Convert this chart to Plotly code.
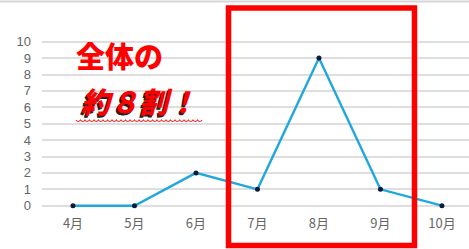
import plotly.graph_objects as go

months = ["4月", "5月", "6月", "7月", "8月", "9月", "10月"]
counts = [0, 0, 2, 1, 9, 1, 0]
y_ticks = list(range(0, 11))

W, H = 469, 249
L, R, T, B = 42, 0, 34, 35
PW, PH = W - L - R, H - T - B

def px(x):
    return (x - L) / PW

def py(y):
    return (H - B - y) / PH

fig = go.Figure()
fig.add_trace(go.Scatter(
    x=list(range(len(months))), y=counts, mode="lines+markers",
    line=dict(color="#1fa8dc", width=2.4),
    marker=dict(color="#0d1a3a", size=5),
    hoverinfo="skip", showlegend=False,
))

font_jp = "Noto Sans CJK JP, Noto Sans, sans-serif"

fig.update_layout(
    width=W, height=H, margin=dict(l=L, r=R, t=T, b=B),
    paper_bgcolor="white", plot_bgcolor="white",
    xaxis=dict(range=[-0.504, 6.44], tickmode="array",
               tickvals=list(range(len(months))), ticktext=months,
               showgrid=False, zeroline=False, showline=False,
               tickfont=dict(family=font_jp, size=13, color="#666666")),
    yaxis=dict(range=[-0.506, 10.47], tickmode="array", tickvals=y_ticks,
               showgrid=True, gridcolor="#dedede", gridwidth=1.5,
               zeroline=False, showline=False, ticklabelstandoff=10,
               tickfont=dict(family="Liberation Sans, Arial, sans-serif",
                             size=13, color="#666666")),
)

# top border line
fig.add_shape(type="line", xref="paper", yref="paper",
              x0=px(0), x1=px(W), y0=py(1.5), y1=py(1.5),
              line=dict(color="#d6d6d6", width=2))

# red highlight rectangle
fig.add_shape(type="rect", xref="paper", yref="paper",
              x0=px(228.5), x1=px(414.5), y0=py(245.5), y1=py(8),
              line=dict(color="#ff0000", width=5.5))

# wavy underline
path = "M %.4f %.4f" % (px(76), py(120))
xs = 76
step = 4.5
while xs + step <= 204:
    path += " Q %.4f %.4f %.4f %.4f" % (px(xs + step / 2), py(123), px(xs + step), py(120))
    xs += step
fig.add_shape(type="path", xref="paper", yref="paper", path=path,
              line=dict(color="#ff2020", width=1.2))

fig.add_annotation(xref="paper", yref="paper", x=px(119), y=py(55),
                   xanchor="center", yanchor="middle",
                   text="全体の", showarrow=False,
                   font=dict(family=font_jp, size=29, color="#ff0000", weight=900))
fig.add_annotation(xref="paper", yref="paper", x=px(139), y=py(100),
                   xanchor="center", yanchor="middle",
                   text="約８割！", showarrow=False,
                   font=dict(family=font_jp, size=29, color="#ff0000", weight=900,
                             style="italic", shadow="-1.5px 1.5px 0px #222"))

fig.write_html("out.html", config={"displayModeBar": False},
               post_script="document.body.style.margin='0';document.body.style.padding='0';")
